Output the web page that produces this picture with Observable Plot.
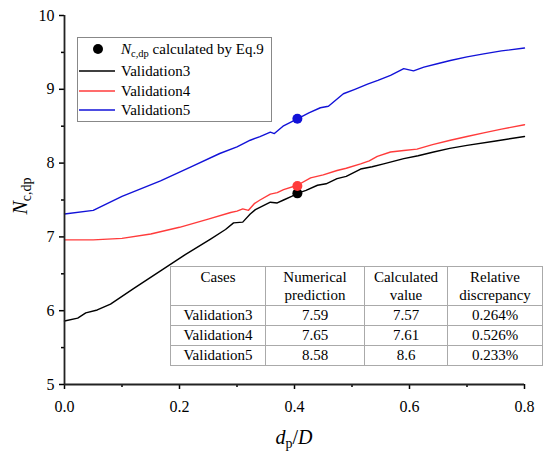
<!DOCTYPE html>
<html><head><meta charset="utf-8">
<script src="https://cdn.jsdelivr.net/npm/d3@7"></script>
<script src="https://cdn.jsdelivr.net/npm/@observablehq/plot@0.6"></script>
<style>
body{margin:0;background:#fff;}
#wrap{position:relative;width:550px;height:458px;font-family:"Liberation Serif","Times New Roman",serif;}
#tbl{position:absolute;left:170px;top:266px;border-collapse:collapse;font-size:15px;background:#fff;table-layout:fixed;font-family:"Liberation Serif","Times New Roman",serif;}
#tbl td{border:1px solid #aaa;text-align:center;padding:0;height:19px;line-height:17px;white-space:nowrap;}
#tbl tr.h td{height:37px;vertical-align:top;line-height:18px;padding-top:1px;}
</style>
</head><body>
<div id="wrap"></div>
<script>
// ---- data ----
const v3X = [0, 0.023, 0.037, 0.057, 0.08, 0.12, 0.167, 0.21, 0.254, 0.28, 0.294, 0.31, 0.323, 0.332, 0.345, 0.358, 0.37, 0.381, 0.395, 0.405, 0.42, 0.44, 0.455, 0.474, 0.49, 0.515, 0.535, 0.555, 0.575, 0.59, 0.615, 0.642, 0.67, 0.7, 0.75, 0.8];
const v3Y = [5.86, 5.9, 5.97, 6.01, 6.09, 6.3, 6.54, 6.76, 6.97, 7.1, 7.19, 7.2, 7.31, 7.37, 7.42, 7.47, 7.46, 7.5, 7.55, 7.59, 7.63, 7.7, 7.72, 7.79, 7.82, 7.92, 7.95, 7.99, 8.03, 8.06, 8.1, 8.15, 8.2, 8.24, 8.3, 8.36];
const v4X = [0, 0.05, 0.1, 0.15, 0.2, 0.25, 0.289, 0.3, 0.31, 0.32, 0.33, 0.34, 0.358, 0.37, 0.381, 0.405, 0.428, 0.45, 0.474, 0.49, 0.515, 0.53, 0.544, 0.567, 0.59, 0.613, 0.64, 0.671, 0.7, 0.729, 0.76, 0.8];
const v4Y = [6.96, 6.96, 6.98, 7.04, 7.13, 7.24, 7.33, 7.35, 7.38, 7.36, 7.45, 7.5, 7.58, 7.6, 7.64, 7.7, 7.8, 7.84, 7.9, 7.93, 7.99, 8.03, 8.09, 8.15, 8.17, 8.19, 8.25, 8.31, 8.36, 8.41, 8.46, 8.52];
const v5X = [0, 0.05, 0.1, 0.167, 0.22, 0.27, 0.3, 0.323, 0.34, 0.358, 0.365, 0.38, 0.405, 0.425, 0.445, 0.459, 0.485, 0.505, 0.527, 0.545, 0.567, 0.59, 0.607, 0.625, 0.65, 0.671, 0.7, 0.729, 0.76, 0.8];
const v5Y = [7.31, 7.36, 7.55, 7.76, 7.95, 8.13, 8.22, 8.31, 8.36, 8.42, 8.4, 8.5, 8.6, 8.68, 8.75, 8.77, 8.94, 9.0, 9.07, 9.12, 9.19, 9.28, 9.25, 9.3, 9.35, 9.39, 9.44, 9.48, 9.52, 9.56];
const seriesNames = ["Validation3", "Validation4", "Validation5"];
const seriesColors = ["#000000", "#ff3b3b", "#1212d8"];
const eqX = [0.405, 0.405, 0.405];
const eqY = [7.59, 7.69, 8.6];
const xTicks = [0, 0.2, 0.4, 0.6, 0.8];
const xMinor = [0.1, 0.3, 0.5, 0.7];
const yTicks = [5, 6, 7, 8, 9, 10];
const yMinor = [5.5, 6.5, 7.5, 8.5, 9.5];
const tableHead = [["Cases"], ["Numerical", "prediction"], ["Calculated", "value"], ["Relative", "discrepancy"]];
const tableRows = [
  ["Validation3", "7.59", "7.57", "0.264%"],
  ["Validation4", "7.65", "7.61", "0.526%"],
  ["Validation5", "8.58", "8.6", "0.233%"]
];

// ---- build ----
const mk = (xs, ys, name) => xs.map((x, i) => ({x, y: ys[i], s: name}));
const lines = [...mk(v3X, v3Y, seriesNames[0]), ...mk(v4X, v4Y, seriesNames[1]), ...mk(v5X, v5Y, seriesNames[2])];
const dots = eqX.map((x, i) => ({x, y: eqY[i], s: seriesNames[i]}));
const font = "'Liberation Serif','Times New Roman',serif";

const chart = Plot.plot({
  width: 550, height: 458,
  marginLeft: 64, marginRight: 26, marginTop: 15, marginBottom: 74,
  x: {domain: [0, 0.8]},
  y: {domain: [5, 10]},
  color: {domain: seriesNames, range: seriesColors},
  style: {fontFamily: font, fontSize: "16px", color: "#000", background: "#fff", overflow: "visible"},
  marks: [
    Plot.line(lines, {x: "x", y: "y", z: "s", stroke: "s", strokeWidth: 1.4}),
    Plot.dot(dots, {x: "x", y: "y", fill: "s", r: 5}),
    Plot.axisX({ticks: xTicks, tickFormat: d3.format(".1f"), tickSize: 5, tickPadding: 11, fontSize: 16, label: null, strokeWidth: 1.5}),
    Plot.axisX({ticks: xMinor, tickFormat: () => "", tickSize: 3, label: null, strokeWidth: 1.5}),
    Plot.axisY({ticks: yTicks, tickFormat: d3.format("d"), tickSize: 5, tickPadding: 5, fontSize: 16, label: null, strokeWidth: 1.5}),
    Plot.axisY({ticks: yMinor, tickFormat: () => "", tickSize: 3, label: null, strokeWidth: 1.5}),
    Plot.ruleY([5], {stroke: "#222", strokeWidth: 1.8}),
    Plot.ruleX([0], {stroke: "#222", strokeWidth: 1.8})
  ]
});
const wrap = document.getElementById("wrap");
wrap.appendChild(chart);

const svg = d3.select(chart);
// y title
const yt = svg.append("text").attr("transform", "translate(27,196) rotate(-90)")
  .attr("text-anchor", "middle").style("font-family", font).style("font-size", "20px").attr("fill", "#000");
yt.append("tspan").style("font-style", "italic").text("N");
yt.append("tspan").style("font-size", "14px").attr("dy", 4).text("c,dp");
// x title
const xt = svg.append("text").attr("x", 294).attr("y", 444)
  .attr("text-anchor", "middle").style("font-family", font).style("font-size", "20px").attr("fill", "#000");
xt.append("tspan").style("font-style", "italic").text("d");
xt.append("tspan").style("font-size", "14px").attr("dy", 4).text("p");
xt.append("tspan").attr("dy", -4).text("/");
xt.append("tspan").style("font-style", "italic").text("D");

// legend
const lg = svg.append("g").attr("text-anchor", "start").style("font-family", font).style("font-size", "15px");
lg.append("rect").attr("x", 77.5).attr("y", 37.5).attr("width", 194).attr("height", 84)
  .attr("fill", "#fff").attr("stroke", "#888").attr("stroke-width", 1);
lg.append("circle").attr("cx", 98).attr("cy", 49).attr("r", 5).attr("fill", "#000");
const lt = lg.append("text").attr("x", 121).attr("y", 54).attr("text-anchor", "start").attr("fill", "#000");
lt.append("tspan").style("font-style", "italic").text("N");
lt.append("tspan").style("font-size", "10.5px").attr("dy", 3).text("c,dp");
lt.append("tspan").attr("dy", -3).text(" calculated by Eq.9");
const rowY = [71, 91, 110];
seriesNames.forEach((n, i) => {
  lg.append("line").attr("x1", 79).attr("x2", 115).attr("y1", rowY[i]).attr("y2", rowY[i])
    .attr("stroke", seriesColors[i]).attr("stroke-width", 1.4);
  lg.append("text").attr("x", 121).attr("y", rowY[i] + 5).attr("text-anchor", "start").attr("fill", "#000").text(n);
});

// table
const colW = [95, 99, 83, 95];
const tbl = document.createElement("table");
tbl.id = "tbl";
const cg = document.createElement("colgroup");
colW.forEach(w => { const c = document.createElement("col"); c.style.width = w + "px"; cg.appendChild(c); });
tbl.appendChild(cg);
const hr = document.createElement("tr"); hr.className = "h";
tableHead.forEach(h => { const td = document.createElement("td"); td.innerHTML = h.join("<br>"); hr.appendChild(td); });
tbl.appendChild(hr);
tableRows.forEach(r => {
  const tr = document.createElement("tr");
  r.forEach(v => { const td = document.createElement("td"); td.textContent = v; tr.appendChild(td); });
  tbl.appendChild(tr);
});
tbl.style.width = colW.reduce((a, b) => a + b, 0) + "px";
wrap.appendChild(tbl);
</script>
</body></html>
